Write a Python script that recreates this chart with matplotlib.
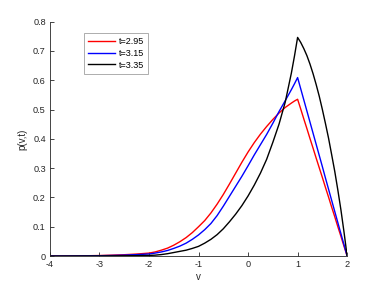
import numpy as np
import matplotlib
matplotlib.use('Agg')
import matplotlib.pyplot as plt

plt.rcParams['font.family'] = ['Liberation Sans', 'DejaVu Sans']

# grid of v values (coarse on the flat tail, finer elsewhere)
v = [-4, -3.75, -3.5, -3.25, -3, -2.75, -2.5, -2.25,
     -2, -1.875, -1.75, -1.625, -1.5, -1.375, -1.25, -1.125,
     -1, -0.875, -0.75, -0.625, -0.5, -0.375, -0.25, -0.125,
     0, 0.125, 0.25, 0.375, 0.5, 0.625, 0.75, 0.875, 0.9375,
     1, 1.0625, 1.125, 1.1875, 1.25, 1.3125, 1.375, 1.4375,
     1.5, 1.5625, 1.625, 1.6875, 1.75, 1.8125, 1.875, 1.9375, 2]

p_295 = [0, 0.0002, 0.0005, 0.001, 0.0017, 0.003, 0.0045, 0.0068,
         0.010, 0.014, 0.020, 0.027, 0.037, 0.049, 0.063, 0.080,
         0.100, 0.121, 0.147, 0.177, 0.210, 0.246, 0.283, 0.320,
         0.355, 0.387, 0.416, 0.442, 0.466, 0.488, 0.507, 0.522, 0.529,
         0.535, 0.502, 0.468, 0.435, 0.401, 0.368, 0.334, 0.301,
         0.268, 0.234, 0.201, 0.167, 0.134, 0.100, 0.067, 0.033, 0]

p_315 = [0, 0.0001, 0.0003, 0.0006, 0.0011, 0.002, 0.0031, 0.0048,
         0.007, 0.010, 0.014, 0.019, 0.026, 0.034, 0.044, 0.057,
         0.072, 0.090, 0.111, 0.138, 0.170, 0.204, 0.238, 0.272,
         0.308, 0.345, 0.380, 0.415, 0.453, 0.493, 0.530, 0.568, 0.588,
         0.609, 0.571, 0.533, 0.495, 0.457, 0.419, 0.381, 0.343,
         0.305, 0.266, 0.228, 0.190, 0.152, 0.114, 0.076, 0.038, 0]

p_335 = [0, 0, 0.0001, 0.0002, 0.0003, 0.0006, 0.0009, 0.0014,
         0.002, 0.003, 0.005, 0.008, 0.012, 0.016, 0.020, 0.026,
         0.033, 0.044, 0.057, 0.073, 0.093, 0.117, 0.143, 0.172,
         0.205, 0.242, 0.283, 0.330, 0.388, 0.450, 0.525, 0.625, 0.683,
         0.746, 0.729, 0.708, 0.684, 0.655, 0.622, 0.585, 0.545,
         0.500, 0.452, 0.402, 0.346, 0.289, 0.225, 0.157, 0.081, 0]

labels = ['t=2.95', 't=3.15', 't=3.35']
colors = ['#ff0000', '#0000ff', '#000000']

fig = plt.figure(figsize=(3.84, 2.88), dpi=100)
ax = fig.add_axes([0.130, 0.111, 0.774, 0.814])

for p, lab, c in zip([p_295, p_315, p_335], labels, colors):
    ax.plot(v, p, color=c, lw=1.0, label=lab)

ax.set_xlim(-4, 2)
ax.set_ylim(0, 0.8)
xt = [-4, -3, -2, -1, 0, 1, 2]
yt = [0, 0.1, 0.2, 0.3, 0.4, 0.5, 0.6, 0.7, 0.8]
ax.set_xticks(xt)
ax.set_xticklabels([str(x) for x in xt])
ax.set_yticks(yt)
ax.set_yticklabels(['0'] + ['%.1f' % y for y in yt[1:]])

gray = '#262626'
for s in ['top', 'right']:
    ax.spines[s].set_visible(False)
for s in ['left', 'bottom']:
    ax.spines[s].set_color(gray)
    ax.spines[s].set_linewidth(0.6)
ax.tick_params(direction='in', length=3, width=0.6, colors=gray,
               labelsize=6.6, pad=3)
ax.set_xlabel('v', fontsize=7, color=gray, labelpad=2)
ax.set_ylabel('p(v,t)', fontsize=7, color=gray, labelpad=4)

leg = ax.legend(loc='upper left', bbox_to_anchor=(0.1145, 0.951), fontsize=6.5,
                frameon=True, fancybox=False, handlelength=3.0,
                handletextpad=0.4, borderpad=0.45, labelspacing=0.3,
                borderaxespad=0)
leg.get_frame().set_edgecolor('#888888')
leg.get_frame().set_linewidth(0.6)

fig.savefig('out.png', dpi=100)
